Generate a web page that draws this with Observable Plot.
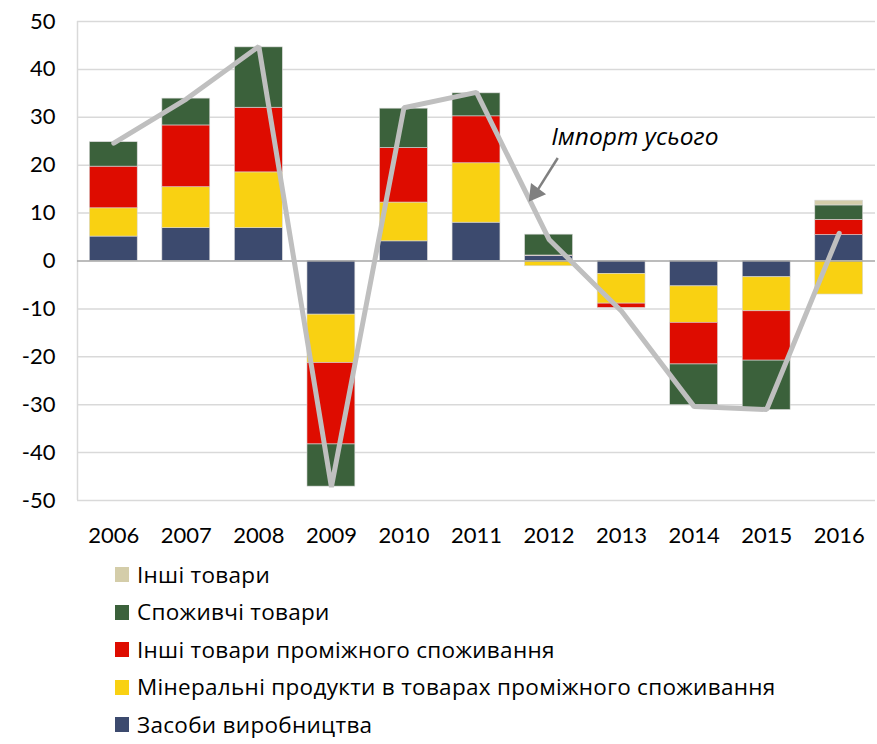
<!DOCTYPE html>
<html><head><meta charset="utf-8">
<script src="https://cdn.jsdelivr.net/npm/d3@7"></script>
<script src="https://cdn.jsdelivr.net/npm/@observablehq/plot@0.6"></script>
<style>
body{margin:0;background:#fff;font-family:Lato,"Open Sans",sans-serif;overflow:hidden}
#legend{margin-left:115px;margin-top:0px}
.row{display:flex;align-items:center;height:37.5px;font-size:22.5px;letter-spacing:0.3px;color:#000;font-family:"Open Sans",sans-serif;line-height:1}
.sw{width:14px;height:15px;margin-right:8px;flex:none}
</style></head><body><div id="chart"></div><div id="legend"></div>
<script>
const years = [2006,2007,2008,2009,2010,2011,2012,2013,2014,2015,2016];
const seriesNames = ["Засоби виробництва","Мінеральні продукти в товарах проміжного споживання","Інші товари проміжного споживання","Споживчі товари","Інші товари"];
const capitalGoods      = [5.1, 6.85, 6.85, -11.2, 4.1, 8.0, 1.0, -2.7, -5.3, -3.4, 5.4];
const mineralProducts   = [5.9, 8.55, 11.65, -10.1, 8.1, 12.4, -1.1, -6.2, -7.6, -7.1, -7.0];
const otherIntermediate = [8.7, 12.9, 13.5, -17.0, 11.4, 9.8, 0.15, -0.9, -8.7, -10.3, 3.2];
const consumerGoods     = [5.1, 5.6, 12.6, -8.8, 8.2, 4.8, 4.35, 0, -8.5, -10.3, 3.0];
const otherGoods        = [0, 0, 0, 0, 0, 0, 0, 0, 0, 0, 1.0];
const totalImport       = [24.6, 33.8, 44.8, -47.2, 32.0, 35.2, 4.5, -10.5, -30.4, -31.0, 5.8];
const yTicks = [-50,-40,-30,-20,-10,0,10,20,30,40,50];
const colors = ["#3c4a6e","#f9d112","#de0c00","#3b613b","#d4cda9"];
const annotationLabel = "Імпорт усього";

const seriesValues = [capitalGoods, mineralProducts, otherIntermediate, consumerGoods, otherGoods];
const table = [];
seriesNames.forEach((s, si) => years.forEach((y, i) => {
  if (seriesValues[si][i] !== 0) table.push({year: y, series: s, value: seriesValues[si][i]});
}));
const totals = years.map((y, i) => ({year: y, value: totalImport[i]}));

const chart = Plot.plot({
  width: 877, height: 556,
  marginLeft: 77, marginRight: 2, marginTop: 21, marginBottom: 56,
  style: {fontFamily: "Lato, 'Open Sans', sans-serif", fontSize: "22px", color: "#000", background: "white", overflow: "visible"},
  x: {domain: [2005.5, 2016.5], ticks: years, tickFormat: d => String(d), tickSize: 0, tickPadding: 27, label: null},
  y: {domain: [-50, 50], ticks: yTicks, tickFormat: d => String(d), tickSize: 0, tickPadding: 22, label: null},
  color: {domain: seriesNames, range: colors},
  marks: [
    Plot.ruleY(yTicks.filter(d => d !== 0), {stroke: "#d9d9d9", strokeWidth: 1.5}),
    Plot.ruleX([2005.5], {y1: -50, y2: 50, stroke: "#d9d9d9", strokeWidth: 1.5}),
    Plot.rectY(table, Plot.stackY({
      x1: d => d.year - 0.33, x2: d => d.year + 0.33, y: "value", fill: "series",
      stroke: "#d8d8d8", strokeWidth: 0.6
    })),
    Plot.ruleY([0], {stroke: "#a6a6a6", strokeWidth: 1.5}),
    Plot.line(totals, {x: "year", y: "value", stroke: "#bfbfbf", strokeWidth: 5, strokeLinejoin: "miter", strokeLinecap: "round"}),
    Plot.text([annotationLabel], {x: 2012.03, y: 25.8, text: d => d, textAnchor: "start", lineAnchor: "middle", fontStyle: "italic", fontSize: 24.5, fontFamily: "'Open Sans', sans-serif", fill: "#000"}),
    Plot.link([0], {x1: 2012.12, y1: 21.5, x2: 2011.85, y2: 15.0, stroke: "#808080", strokeWidth: 2.5}),
    Plot.dot([0], {x: 2011.81, y: 14.2, symbol: "triangle", r: 7, fill: "#808080", stroke: "none", rotate: 217})
  ]
});
document.getElementById("chart").appendChild(chart);

const legend = document.getElementById("legend");
[...seriesNames].reverse().forEach(s => {
  const row = document.createElement("div");
  row.className = "row";
  const sw = document.createElement("div");
  sw.className = "sw";
  sw.style.background = colors[seriesNames.indexOf(s)];
  const t = document.createElement("span");
  t.textContent = s;
  row.appendChild(sw); row.appendChild(t);
  legend.appendChild(row);
});
</script></body></html>
